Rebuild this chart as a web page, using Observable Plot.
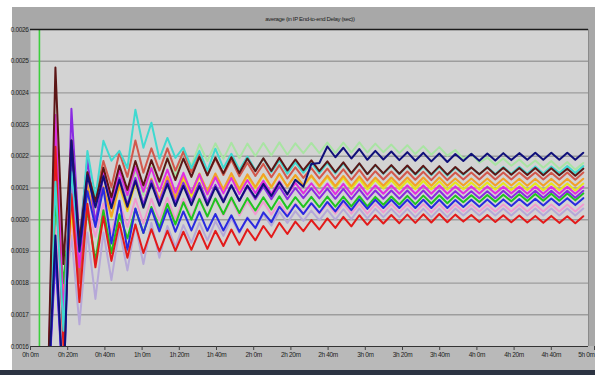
<!DOCTYPE html>
<html><head><meta charset="utf-8">
<script src="https://cdn.jsdelivr.net/npm/d3@7"></script>
<script src="https://cdn.jsdelivr.net/npm/@observablehq/plot@0.6"></script>
<style>
html,body{margin:0;padding:0;background:#fff;width:595px;height:375px;overflow:hidden;}
#wrap{position:relative;width:595px;height:375px;}
#panel{position:absolute;left:12px;top:7px;width:583px;height:363px;background:#a8a8a8;}
#bottomband{position:absolute;left:12px;top:346px;width:583px;height:24px;background:#b9b9b9;}
#taskbar{position:absolute;left:0;top:370px;width:595px;height:5px;background:#2c3342;}
#title{position:absolute;left:0;top:16px;width:620px;text-align:center;font:6px "Liberation Sans",sans-serif;letter-spacing:-0.35px;color:#222;}
#chart{position:absolute;left:0;top:0;}
#chart svg text{letter-spacing:-0.35px;}
</style></head><body>
<div id="wrap"><div id="panel"></div><div id="bottomband"></div><div id="taskbar"></div>
<div id="title">average (in IP End-to-end Delay (sec))</div><div id="chart"></div></div>
<script>
// sample times (minutes)
const times = [9.1,13.4,17.7,22.0,26.3,30.6,34.9,39.2,43.5,47.8,52.1,56.4,60.7,65.0,69.3,73.6,77.9,82.2,86.5,90.8,95.1,99.4,103.7,108.0,112.3,116.6,120.9,125.2,129.5,133.8,138.1,142.4,146.7,151.0,155.3,159.6,163.9,168.2,172.5,176.8,181.1,185.4,189.7,194.0,198.3,202.6,206.9,211.2,215.5,219.8,224.1,228.4,232.7,237.0,241.3,245.6,249.9,254.2,258.5,262.8,267.1,271.4,275.7,280.0,284.3,288.6,292.9,297.2];
const xTicks = [0,20,40,60,80,100,120,140,160,180,200,220,240,260,280,300];
const xTickLabels = ["0h 0m","0h 20m","0h 40m","1h 0m","1h 20m","1h 40m","2h 0m","2h 20m","2h 40m","3h 0m","3h 20m","3h 40m","4h 0m","4h 20m","4h 40m","5h 0m"];
const yTicks = [0.0016,0.0017,0.0018,0.0019,0.0020,0.0021,0.0022,0.0023,0.0024,0.0025,0.0026];
const markerTime = [4.8];

// delay values in microseconds
const cyan = [1400,2120,1650,2150,1900,2217,2070,2249,2186,2217,
 2163,2347,2227,2306,2192,2258,2195,2227,2163,2217,
 2154,2224,2163,2208,2157,2199,2156,2193,2150,2188,
 2145,2181,2148,2180,2147,2179,2146,2178,2145,2177,
 2144,2172,2145,2170,2144,2169,2142,2167,2141,2166,
 2139,2164,2142,2165,2143,2166,2144,2166,2145,2167,
 2145,2168,2146,2168,2147,2169,2147,2169];
const palegreen = [1420,2150,1720,2100,1850,2130,2036,2141,2047,2145,
 2067,2156,2078,2168,2112,2195,2138,2217,2170,2238,
 2185,2241,2192,2243,2194,2240,2201,2242,2203,2244,
 2205,2241,2210,2242,2210,2243,2211,2243,2212,2244,
 2212,2240,2213,2237,2210,2235,2207,2232,2205,2229,
 2202,2220,2192,2208,2180,2196,2173,2193,2170,2190,
 2167,2187,2164,2185,2161,2182,2158,2179];
const navy = [1400,1950,1450,2250,1900,2140,2039,2137,2036,2126,
 2041,2123,2038,2114,2044,2113,2043,2107,2046,2106,
 2045,2103,2055,2108,2060,2108,2070,2113,2075,2118,
 2080,2126,2104,2176,2179,2231,2197,2227,2193,2223,
 2189,2217,2190,2215,2188,2213,2186,2211,2184,2209,
 2182,2207,2185,2208,2186,2209,2187,2210,2188,2210,
 2189,2211,2189,2211,2189,2211,2189,2211];
const maroon = [1400,2480,1860,2250,1930,2150,2057,2164,2071,2171,
 2094,2185,2108,2188,2120,2193,2125,2193,2135,2198,
 2140,2196,2146,2197,2147,2193,2153,2194,2154,2195,
 2155,2190,2156,2187,2153,2184,2150,2181,2147,2178,
 2144,2173,2146,2172,2145,2171,2144,2170,2143,2169,
 2142,2166,2144,2165,2143,2165,2142,2164,2142,2163,
 2141,2163,2140,2162,2140,2161,2139,2161];
const salmon = [1400,2180,1700,2120,1800,2150,2068,2185,2103,2212,
 2135,2250,2148,2225,2155,2225,2155,2215,2150,2205,
 2140,2193,2141,2189,2137,2180,2138,2176,2134,2172,
 2130,2165,2132,2163,2130,2161,2128,2159,2126,2157,
 2124,2153,2127,2152,2126,2152,2126,2151,2125,2151,
 2125,2149,2127,2149,2127,2150,2127,2149,2127,2149,
 2128,2149,2127,2148,2127,2149,2126,2149];
const orange = [1400,2220,1750,2050,1800,2110,1997,2104,2011,2111,
 2034,2125,2048,2129,2063,2136,2070,2139,2083,2146,
 2090,2146,2096,2147,2097,2143,2103,2144,2104,2145,
 2105,2141,2108,2140,2107,2139,2106,2138,2105,2137,
 2104,2133,2107,2133,2107,2133,2107,2133,2107,2133,
 2107,2130,2108,2130,2108,2130,2108,2130,2108,2129,
 2107,2129,2107,2129,2107,2129,2107,2129];
const yellow = [1400,2100,1720,2020,1820,2090,1996,2101,2007,2105,
 2027,2116,2038,2119,2053,2126,2060,2129,2073,2136,
 2080,2137,2088,2140,2091,2138,2099,2141,2102,2144,
 2105,2140,2106,2137,2104,2134,2101,2132,2098,2129,
 2096,2125,2098,2124,2097,2123,2097,2122,2096,2121,
 2095,2118,2096,2117,2095,2117,2095,2116,2094,2116,
 2094,2115,2093,2115,2093,2114,2092,2114];
const magenta = [1400,2330,1700,2140,1850,2140,2046,2151,2057,2155,
 2077,2166,2088,2163,2090,2158,2085,2148,2085,2143,
 2080,2134,2083,2132,2081,2125,2084,2123,2082,2121,
 2080,2116,2083,2115,2082,2114,2081,2113,2080,2112,
 2079,2108,2082,2108,2082,2108,2082,2108,2082,2108,
 2082,2105,2083,2105,2083,2105,2083,2104,2083,2104,
 2082,2104,2082,2104,2082,2104,2082,2104];
const purple = [1400,1880,1450,2350,1930,2190,1990,2140,2040,2132,
 2048,2132,2048,2124,2054,2123,2053,2117,2057,2116,
 2055,2110,2060,2110,2060,2105,2065,2105,2065,2105,
 2065,2100,2068,2099,2067,2098,2066,2097,2065,2096,
 2064,2092,2066,2092,2066,2092,2066,2092,2066,2092,
 2066,2090,2068,2090,2068,2090,2068,2091,2069,2091,
 2069,2091,2069,2091,2069,2091,2069,2091];
const green = [1400,2060,1800,2070,1850,2030,1870,2030,1895,2017,
 1941,2034,1958,2040,1975,2050,1985,2055,2000,2065,
 2010,2067,2018,2070,2021,2068,2029,2071,2032,2074,
 2035,2071,2040,2072,2040,2073,2041,2073,2042,2074,
 2042,2072,2047,2073,2048,2075,2049,2076,2051,2077,
 2052,2076,2055,2077,2056,2078,2057,2079,2058,2080,
 2059,2081,2060,2082,2060,2083,2061,2083];
const blue = [1400,1910,1450,2230,1900,2090,1977,2100,1925,2060,
 1905,2035,1958,2034,1963,2033,1962,2026,1966,2025,
 1965,2018,1966,2014,1962,2005,1974,2023,1992,2041,
 2010,2048,2018,2052,2022,2056,2026,2060,2030,2064,
 2034,2063,2037,2063,2037,2063,2037,2063,2037,2063,
 2037,2062,2040,2063,2041,2064,2042,2064,2043,2065,
 2044,2066,2045,2067,2046,2068,2046,2068];
const pink = [1400,1980,1650,2000,1780,2040,1946,2051,1957,2055,
 1977,2066,1988,2066,1998,2069,2000,2066,2008,2069,
 2010,2065,2014,2064,2013,2058,2017,2057,2016,2056,
 2015,2051,2019,2051,2019,2051,2019,2051,2019,2051,
 2019,2049,2023,2049,2023,2049,2023,2049,2023,2049,
 2023,2048,2026,2048,2026,2048,2026,2048,2026,2048,
 2026,2048,2026,2048,2026,2048,2026,2048];
const lavender = [1400,2000,1700,1950,1670,1960,1750,1960,1810,1970,
 1840,1985,1860,1990,1880,1980,1914,1983,1927,1991,
 1935,1995,1949,2004,1958,2008,1972,2017,1981,2026,
 1990,2027,1996,2029,1998,2031,2000,2033,2002,2035,
 2004,2034,2008,2034,2008,2034,2008,2034,2008,2034,
 2008,2035,2013,2035,2013,2035,2013,2035,2013,2035,
 2013,2035,2013,2035,2013,2035,2013,2035];
const red = [1400,2230,1600,2080,1740,2050,1850,2010,1870,1990,
 1880,1985,1895,1970,1900,1965,1902,1962,1905,1965,
 1908,1965,1917,1969,1921,1970,1935,1980,1945,1990,
 1955,1994,1964,1999,1969,2004,1974,2009,1979,2014,
 1984,2014,1988,2015,1989,2016,1990,2017,1991,2018,
 1992,2016,1994,2015,1993,2015,1993,2014,1992,2013,
 1991,2012,1990,2012,1990,2011,1989,2011];

const seriesList = [
  {name: "palegreen", color: "#a9e4a3", values: palegreen},
  {name: "lavender", color: "#b6a8d8", values: lavender},
  {name: "pink", color: "#f09ad0", values: pink},
  {name: "yellow", color: "#e6e61c", values: yellow},
  {name: "orange", color: "#f2a02a", values: orange},
  {name: "green", color: "#1fc41f", values: green},
  {name: "salmon", color: "#d2584c", values: salmon},
  {name: "magenta", color: "#e02ee0", values: magenta},
  {name: "purple", color: "#8a2be2", values: purple},
  {name: "blue", color: "#2a2ae0", values: blue},
  {name: "red", color: "#e31a1a", values: red},
  {name: "cyan", color: "#3fd9d0", values: cyan},
  {name: "maroon", color: "#5c1616", values: maroon},
  {name: "navy", color: "#10107a", values: navy}
];

const font = '"Liberation Sans",sans-serif';
const lineMarks = seriesList.map(s =>
  Plot.line(s.values.map((v, i) => ({t: times[i], v: v * 1e-6})),
    {x: "t", y: "v", stroke: s.color, strokeWidth: 2, clip: true})
);
const fmtX = d => xTickLabels[xTicks.indexOf(d)];

const chart = Plot.plot({
  width: 595, height: 375,
  marginTop: 29, marginBottom: 29, marginLeft: 30, marginRight: 7,
  style: {background: "transparent", fontFamily: font, fontSize: "6.5px", color: "#222"},
  x: {domain: [0, 300]},
  y: {domain: [0.0016, 0.0026]},
  marks: [
    Plot.frame({fill: "#d3d3d3", stroke: null}),
    Plot.ruleY(yTicks.slice(1, -1), {stroke: "#9d9d9d", strokeWidth: 1.4}),
    Plot.ruleX(markerTime, {stroke: "#3dcf3d", strokeWidth: 1.6}),
    ...lineMarks,
    Plot.ruleY([0.0026], {stroke: "#1a1a1a", strokeWidth: 1.6}),
    Plot.ruleY([0.0016], {stroke: "#333", strokeWidth: 1.2}),
    Plot.ruleX([300], {stroke: "#8a8a8a", strokeWidth: 1}),
    Plot.axisX({ticks: xTicks.slice(0, -1), tickFormat: fmtX, tickSize: 4, tickPadding: 2, fontSize: 6.5, label: null, stroke: "#444"}),
    Plot.axisX({ticks: xTicks.slice(-1), tickFormat: fmtX, tickSize: 4, tickPadding: 2, fontSize: 6.5, label: null, stroke: "#444", textAnchor: "end", dx: 6}),
    Plot.axisY({ticks: yTicks, tickFormat: d3.format(".4f"), tickSize: 0, tickPadding: 2, fontSize: 6.5, label: null})
  ]
});
document.getElementById("chart").appendChild(chart);
</script>
</body></html>
